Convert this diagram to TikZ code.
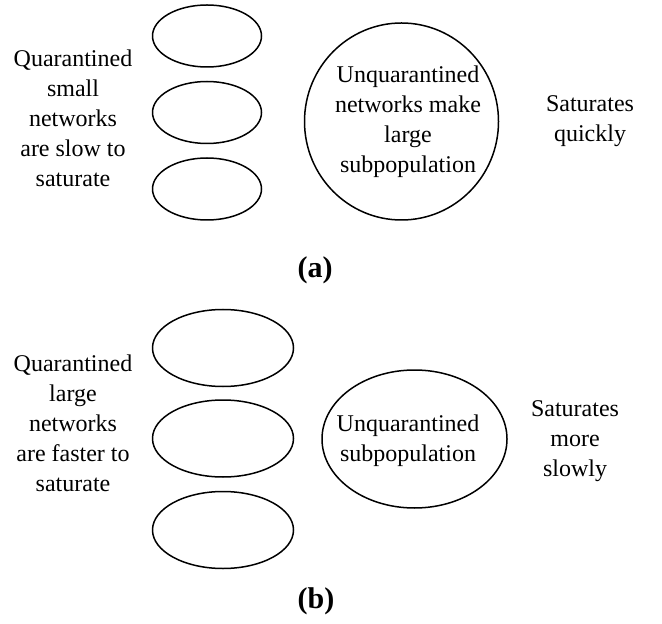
\documentclass[tikz,border=0pt]{standalone}
\usepackage{fontspec}
\setmainfont{Liberation Serif}
\usetikzlibrary{shapes.geometric}
\begin{document}
\begin{tikzpicture}[x=0.5pt,y=-0.5pt,
  oval/.style={draw, ellipse, line width=0.75pt, inner sep=0pt},
  lbl/.style={align=center, inner sep=0pt, font=\fontsize{12}{15}\selectfont},
  figlbl/.style={inner sep=0pt, font=\fontsize{15}{18}\selectfont\bfseries}]
\useasboundingbox (0,0) rectangle (662,624);
% panel (a)
\node[oval, minimum width=54.5pt, minimum height=31pt] (a1) at (207,36) {};
\node[oval, minimum width=54.5pt, minimum height=31pt] (a2) at (207,112.5) {};
\node[oval, minimum width=54.5pt, minimum height=31pt] (a3) at (207,189) {};
\node[oval, minimum width=97pt, minimum height=98.5pt] (abig) at (401.5,121.5) {};
\node[lbl] (atxt) at (73,118) {Quarantined\\small\\networks\\are slow to\\saturate};
\node[lbl] (abigtxt) at (408,122) {Unquarantined\\networks make\\large\\subpopulation};
\node[lbl] (asat) at (590,121.5) {Saturates\\quickly};
\node[figlbl] (acap) at (315,270) {(a)};
% panel (b)
\node[oval, minimum width=70.5pt, minimum height=38.5pt] (b1) at (223,348) {};
\node[oval, minimum width=70.5pt, minimum height=38.5pt] (b2) at (223,438.5) {};
\node[oval, minimum width=70.5pt, minimum height=38.5pt] (b3) at (223,530) {};
\node[oval, minimum width=92.5pt, minimum height=69pt] (bbig) at (414.5,439) {};
\node[lbl] (btxt) at (73,423) {Quarantined\\large\\networks\\are faster to\\saturate};
\node[lbl] (bbigtxt) at (408,440.5) {Unquarantined\\subpopulation};
\node[lbl] (bsat) at (575,441.5) {Saturates\\more\\slowly};
\node[figlbl] (bcap) at (316,601) {(b)};
\end{tikzpicture}
\end{document}
